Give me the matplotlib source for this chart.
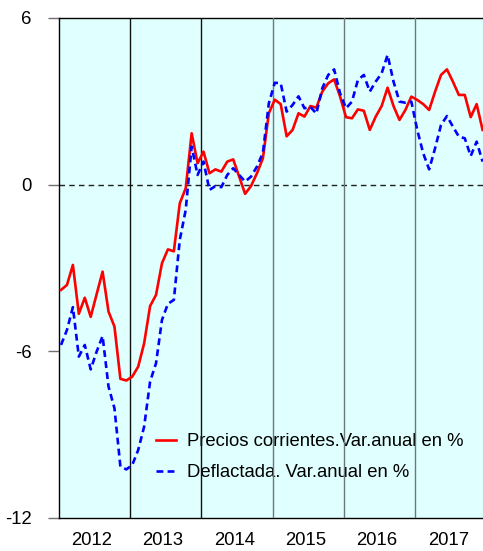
import matplotlib
matplotlib.use("Agg")
import matplotlib.pyplot as plt
import numpy as np

plt.rcParams["font.family"] = ["Liberation Sans", "DejaVu Sans"]

# monthly values, Jan 2012 .. Dec 2017
precios = [-3.79, -3.61, -2.89, -4.65, -4.07, -4.76, -3.94, -3.13, -4.57, -5.11, -6.99, -7.05,
           -6.91, -6.55, -5.71, -4.37, -3.97, -2.83, -2.33, -2.40, -0.67, -0.13, 1.85, 0.77,
           1.19, 0.41, 0.55, 0.47, 0.83, 0.91, 0.29, -0.33, -0.05, 0.41, 0.95, 2.57,
           3.06, 2.90, 1.74, 1.97, 2.57, 2.45, 2.83, 2.77, 3.35, 3.65, 3.79, 3.17,
           2.43, 2.39, 2.71, 2.66, 1.97, 2.45, 2.83, 3.49, 2.83, 2.33, 2.69, 3.17,
           3.05, 2.90, 2.69, 3.35, 3.95, 4.15, 3.71, 3.23, 3.23, 2.43, 2.90, 1.97]
deflactada = [-5.77, -5.23, -4.41, -6.19, -5.77, -6.65, -6.01, -5.45, -7.27, -8.05, -10.15, -10.25,
              -10.09, -9.55, -8.71, -7.09, -6.43, -4.87, -4.29, -4.15, -1.99, -0.91, 1.37, 0.35,
              0.83, -0.19, -0.05, -0.09, 0.35, 0.59, 0.35, 0.11, 0.29, 0.65, 1.15, 2.93,
              3.67, 3.65, 2.63, 2.87, 3.18, 2.75, 2.80, 2.56, 3.47, 3.95, 4.15, 3.29,
              2.75, 2.99, 3.77, 3.95, 3.35, 3.71, 4.01, 4.67, 3.71, 2.99, 2.95, 2.99,
              1.97, 1.13, 0.55, 1.31, 2.15, 2.47, 2.09, 1.73, 1.67, 1.03, 1.55, 0.83]
years = ["2012", "2013", "2014", "2015", "2016", "2017"]
yticks = [-12, -6, 0, 6]

x = np.arange(len(precios))

fig = plt.figure(figsize=(4.83, 5.51), dpi=100)
ax = fig.add_axes([59.3 / 483, 1 - 518 / 551, (483 - 59.3) / 483, 500 / 551])
ax.set_facecolor("#E0FFFF")

ax.plot(x, precios, color="#FF0000", lw=1.9, zorder=4,
        label="Precios corrientes.Var.anual en %")
ax.plot(x, deflactada, color="#0000FF", lw=1.9, ls=(0, (2.6, 1.6)), zorder=4,
        label="Deflactada. Var.anual en %")

ax.axhline(0, color="#202020", lw=1.0, ls=(0, (4, 3)), zorder=2)
for k in range(1, len(years)):
    ax.axvline(11.62 + 12 * (k - 1), color="#111111" if k < 3 else "#6E7878",
               lw=1.0, zorder=3)

ax.set_xlim(-0.29, 71.07)
ax.set_ylim(-12, 6)
ax.set_yticks(yticks)
ax.set_yticklabels([str(v) for v in yticks])
ax.set_xticks([5.2 + 12 * i for i in range(len(years))])
ax.set_xticklabels(years)
ax.tick_params(axis="x", length=0, pad=10, labelsize=13.3)
ax.tick_params(axis="y", length=8, width=1, color="#707070", pad=12, labelsize=13.3)
for s in ["left", "top", "bottom"]:
    ax.spines[s].set_color("black")
    ax.spines[s].set_linewidth(1.0)
ax.spines["right"].set_visible(False)

leg = ax.legend(loc="upper left", bbox_to_anchor=(0.228, 0.17), frameon=False,
                fontsize=13.3, handlelength=1.08, handletextpad=0.63,
                labelspacing=0.78, borderpad=0, borderaxespad=0)
leg.set_zorder(1)

fig.savefig("out.png", dpi=100)
